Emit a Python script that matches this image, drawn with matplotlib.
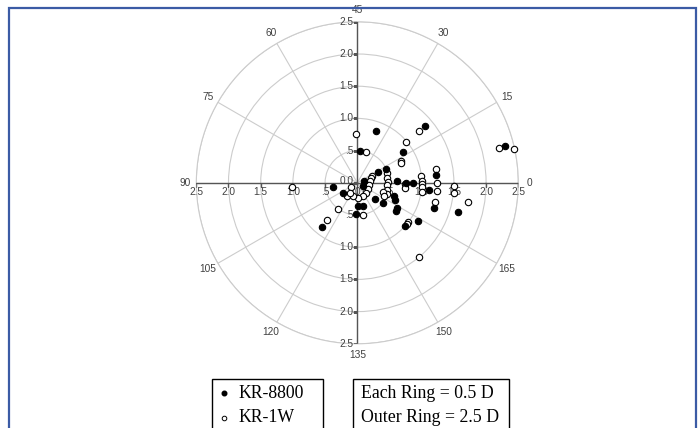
import numpy as np
import matplotlib
matplotlib.use('Agg')
import matplotlib.pyplot as plt
from matplotlib.patches import Rectangle
from matplotlib.lines import Line2D

# astigmatism magnitude (D) and axis (deg), double-angle plot
kr8800_cyl = [0.86, 1.37, 0.50, 0.86, 2.36, 0.50, 0.36, 1.23, 0.11, 0.10,
              0.61, 0.75, 0.86, 1.12, 0.38, 0.27, 0.37, 0.50, 0.61, 0.64,
              0.73, 0.74, 1.25, 1.62, 0.36, 0.37, 0.49, 0.88, 1.00, 1.12]
kr8800_axis = [35, 20, 43, 17, 7, 13, 14.5, 3, 9, 167,
               1, 0, 0, 177, 95.5, 107, 159, 161, 170, 168,
               164, 162, 171, 172, 136, 141.5, 134, 116, 159, 164]

kr1w_cyl = [0.76, 0.50, 0.99, 0.76, 0.75, 1.25, 2.26, 2.49, 1.24, 1.00,
            0.25, 0.49, 1.02, 1.50, 1.51, 1.23, 1.24, 1.25, 1.75, 0.51,
            0.75, 0.50, 0.99, 1.00, 1.50, 0.26, 0.11, 0.22, 0.20, 0.19,
            0.20, 0.21, 0.22, 0.23, 0.21, 0.19, 0.47, 0.47, 0.47, 0.48,
            0.49, 1.00, 1.00, 1.00, 1.01, 0.74, 0.75, 0.42, 0.46]
kr1w_axis = [46, 37, 20, 13.5, 12, 20, 7, 6, 5, 3,
             12.6, 9, 92, 179, 177, 180, 177, 173, 175, 117,
             115.5, 140, 161, 160, 155, 116.5, 107.5, 9, 4, 175,
             165, 156, 146, 137, 126.6, 117, 5, 1, 177.5, 173,
             169.6, 1, 179.5, 178, 176, 179, 177, 170, 167]

axis_labels = ['0', '15', '30', '45', '60', '75', '90', '105', '120', '135', '150', '165']
rings = [0.5, 1.0, 1.5, 2.0, 2.5]
ring_labels = ['.5', '1.0', '1.5', '2.0', '2.5']

W, H = 699, 428
fig = plt.figure(figsize=(W / 100, H / 100), dpi=100)

cx, cy, rad = 357.3, 182.8, 161.0
ax = fig.add_axes([(cx - rad) / W, 1 - (cy + rad) / H, 2 * rad / W, 2 * rad / H],
                  projection='polar')
ax.set_ylim(0, 2.5)
ax.set_thetagrids(np.arange(0, 360, 30), [''] * 12)
ax.set_rgrids(rings, [''] * 5)
ax.grid(True, color='#cccccc', lw=0.8)
ax.spines['polar'].set_color('#cccccc')
ax.spines['polar'].set_linewidth(0.8)
ax.tick_params(length=0)

axcol = '#555555'
for th in [0, np.pi / 2, np.pi, 1.5 * np.pi]:
    ax.plot([th, th], [0, 2.5], color=axcol, lw=1.0, zorder=3)

# tick marks on the cross axes
ax.plot(np.full(6, np.pi / 2), [0] + rings, ls='none', marker=0, ms=3, color=axcol, zorder=3)
ax.plot(np.full(5, 1.5 * np.pi), rings, ls='none', marker=0, ms=3, color=axcol, zorder=3)
ax.plot(np.full(5, 0), rings, ls='none', marker=3, ms=3, color=axcol, zorder=3)
ax.plot(np.full(5, np.pi), rings, ls='none', marker=3, ms=3, color=axcol, zorder=3)

tcol = '#404040'
fs = 7.3
sans = 'Liberation Sans'
for r, lbl in zip(rings, ring_labels):
    for th in [np.pi / 2, 1.5 * np.pi]:
        ax.annotate(lbl, xy=(th, r), xytext=(-3, 0), textcoords='offset points',
                    ha='right', va='center', fontsize=fs, color=tcol, family=sans, zorder=4)
    for th in [0, np.pi]:
        ax.annotate(lbl, xy=(th, r), xytext=(0, -3), textcoords='offset points',
                    ha='center', va='top', fontsize=fs, color=tcol, family=sans, zorder=4)
ax.annotate('0.0', xy=(0, 0), xytext=(-3, 1), textcoords='offset points',
            ha='right', va='center', fontsize=fs, color=tcol, family=sans, zorder=4)
ax.annotate('0.0', xy=(0, 0), xytext=(3, -3), textcoords='offset points',
            ha='center', va='top', fontsize=fs, color=tcol, family=sans, zorder=4)

for i, lbl in enumerate(axis_labels):
    th = np.deg2rad(30 * i)
    ax.text(th, 2.68, lbl, ha='center', va='center', fontsize=fs, color=tcol, family=sans)

th1 = np.deg2rad(2 * np.array(kr8800_axis))
th2 = np.deg2rad(2 * np.array(kr1w_axis))
ax.plot(th2, kr1w_cyl, ls='none', marker='o', ms=4.6, mfc='white', mec='black',
        mew=0.8, zorder=5, clip_on=False)
ax.plot(th1, kr8800_cyl, ls='none', marker='o', ms=4.6, mfc='black', mec='black',
        mew=0.8, zorder=6, clip_on=False)

# outer blue frame
fig.add_artist(Rectangle((8.5 / W, -0.1), (696 - 8.5) / W, 1.1 - 7.5 / H,
                         transform=fig.transFigure, fill=False, ec='#3b5ba5', lw=1.6))

# legend boxes
serif = 'Liberation Serif'
fig.add_artist(Rectangle((212 / W, -0.1), (323 - 212) / W, 0.1 + 1 - 379 / H,
                         transform=fig.transFigure, fill=False, ec='black', lw=1.0))
fig.add_artist(Rectangle((353 / W, -0.1), (509 - 353) / W, 0.1 + 1 - 379 / H,
                         transform=fig.transFigure, fill=False, ec='black', lw=1.0))
fig.add_artist(Line2D([224 / W], [1 - 393 / H], transform=fig.transFigure, marker='o',
                      ms=3.3, mfc='black', mec='black', ls='none'))
fig.add_artist(Line2D([224 / W], [1 - 418 / H], transform=fig.transFigure, marker='o',
                      ms=3.3, mfc='white', mec='black', mew=0.7, ls='none'))
fig.text(238 / W, 1 - 393 / H, 'KR-8800', family=serif, fontsize=12.8, va='center')
fig.text(238 / W, 1 - 418 / H, 'KR-1W', family=serif, fontsize=12.8, va='center')
fig.text(361 / W, 1 - 393 / H, 'Each Ring = 0.5 D', family=serif, fontsize=12.8, va='center')
fig.text(361 / W, 1 - 417 / H, 'Outer Ring = 2.5 D', family=serif, fontsize=12.8, va='center')

fig.savefig('out.png', dpi=100)
